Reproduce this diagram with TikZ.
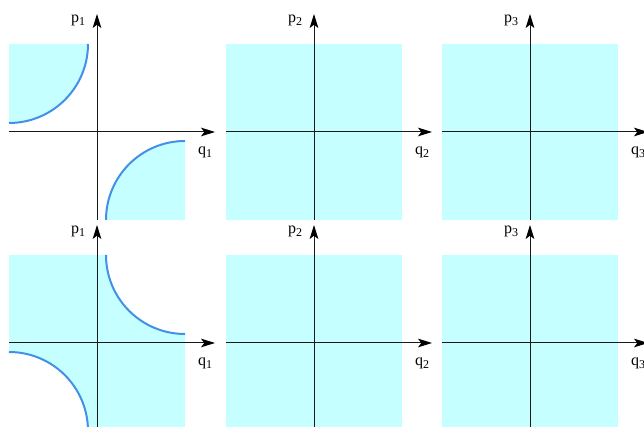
\documentclass[tikz,border=0pt]{standalone}
\usepackage{fontspec}
\setmainfont{Liberation Serif}
\usepackage{xcolor}
\definecolor{PSfill}{RGB}{198,255,255}
\definecolor{PScurve}{RGB}{66,145,230}
\usepackage{tikz}
\usetikzlibrary{arrows.meta, positioning}

\newcommand{\idx}[1]{\raisebox{-0.45ex}{\fontsize{9}{10}\selectfont #1}}

\begin{document}
\begin{tikzpicture}[x=0.75pt, y=0.75pt]
  % phase-space panels (q_i, p_i), one quadrant picture per degree of freedom
\tikzset{
  axis/.style={black!90, line width=0.75pt, -{Stealth[length=10.5pt, width=6.5pt, inset=2.5pt, black]}},
  region/.style={fill=PSfill},
  boundary/.style={PScurve, line width=1.5pt},
  axlabel/.style={font=\fontsize{12}{14}\selectfont, inner sep=1pt},
}
  \useasboundingbox (0,0) rectangle (644,427);

  % Top left: two quarter discs at the corners
  \begin{scope}[shift={(97,295)}]
    \fill[region] (-88,88) -- (-88,9) arc[start angle=-90, end angle=0, radius=79] -- cycle;
    \fill[region] (88,-88) -- (9,-88) arc[start angle=180, end angle=90, radius=79] -- cycle;
    \draw[boundary] (-88,9) arc[start angle=-90, end angle=0, radius=79];
    \draw[boundary] (9,-88) arc[start angle=180, end angle=90, radius=79];
    \coordinate (qs-1-1) at (-88,0);
    \coordinate (qe-1-1) at (118,0);
    \coordinate (ps-1-1) at (0,-88);
    \coordinate (pe-1-1) at (0,118);
    \draw[axis] (qs-1-1) -- (qe-1-1);
    \draw[axis] (ps-1-1) -- (pe-1-1);
    \node[axlabel] (p-1-1) at (-19,112) {p\idx{1}};
    \node[axlabel] (q-1-1) at (108,-20) {q\idx{1}};
  \end{scope}

  % Bottom left: square with the two corner discs cut out
  \begin{scope}[shift={(97,84)}]
    \fill[region, even odd rule] (-88,-88) rectangle (88,88)
      (88,88) -- (9,88) arc[start angle=180, end angle=270, radius=79] -- cycle
      (-88,-88) -- (-9,-88) arc[start angle=0, end angle=90, radius=79] -- cycle;
    \draw[boundary] (9,88) arc[start angle=180, end angle=270, radius=79];
    \draw[boundary] (-9,-88) arc[start angle=0, end angle=90, radius=79];
    \coordinate (qs-2-1) at (-88,0);
    \coordinate (qe-2-1) at (118,0);
    \coordinate (ps-2-1) at (0,-88);
    \coordinate (pe-2-1) at (0,118);
    \draw[axis] (qs-2-1) -- (qe-2-1);
    \draw[axis] (ps-2-1) -- (pe-2-1);
    \node[axlabel] (p-2-1) at (-19,112) {p\idx{1}};
    \node[axlabel] (q-2-1) at (108,-20) {q\idx{1}};
  \end{scope}

  % Remaining panels: whole square filled
  \foreach \px/\py/\r/\i in {314/295/1/2, 530/295/1/3, 314/84/2/2, 530/84/2/3}{
    \begin{scope}[shift={(\px,\py)}]
      \fill[region] (-88,-88) rectangle (88,88);
      \coordinate (qs-\r-\i) at (-88,0);
      \coordinate (qe-\r-\i) at (118,0);
      \coordinate (ps-\r-\i) at (0,-88);
      \coordinate (pe-\r-\i) at (0,118);
      \draw[axis] (qs-\r-\i) -- (qe-\r-\i);
      \draw[axis] (ps-\r-\i) -- (pe-\r-\i);
      \node[axlabel] (p-\r-\i) at (-19,112) {p\idx{\i}};
      \node[axlabel] (q-\r-\i) at (108,-20) {q\idx{\i}};
    \end{scope}
  }

\end{tikzpicture}
\end{document}
